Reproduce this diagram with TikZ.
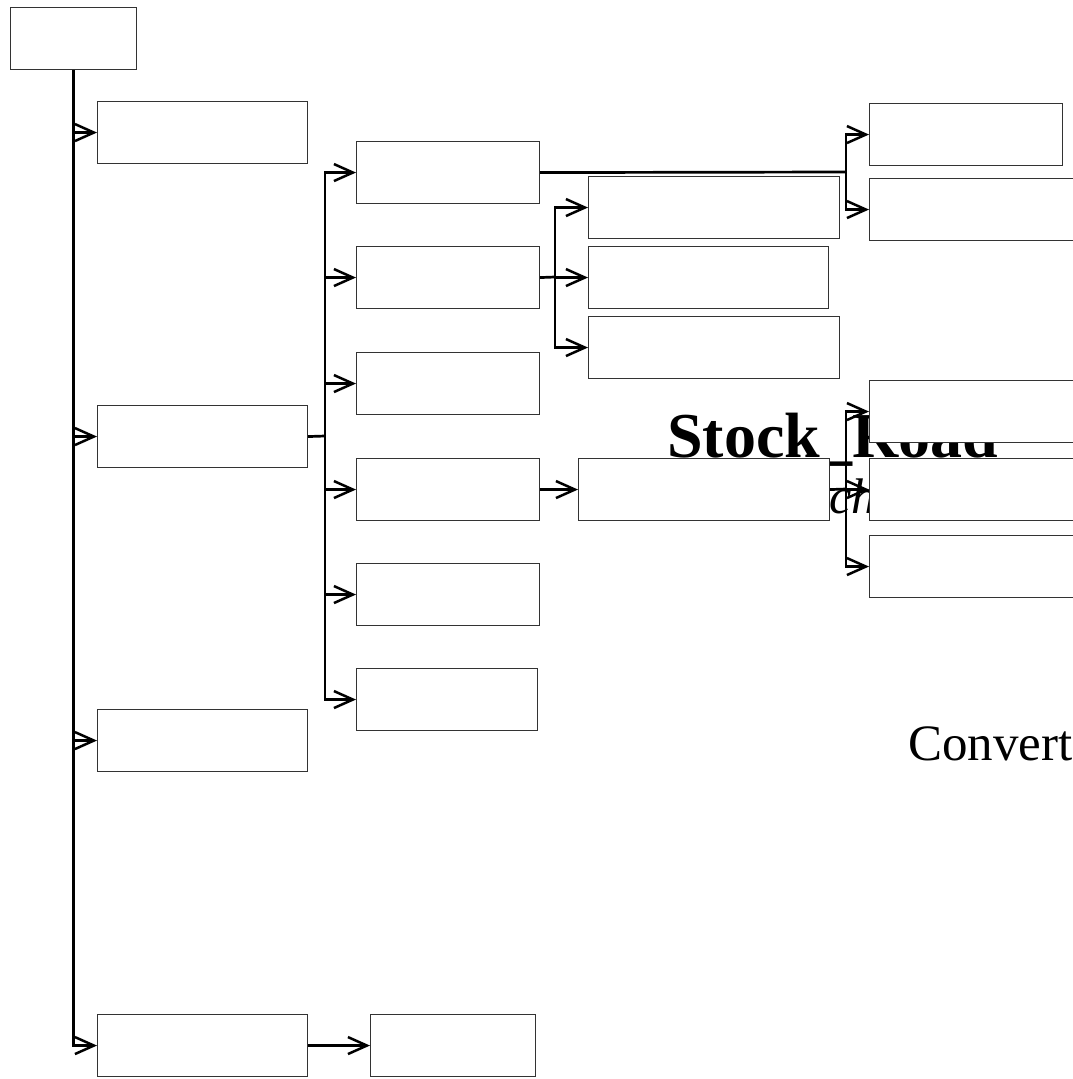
\documentclass[tikz,border=0pt]{standalone}
\usepackage{fontspec}
\setmainfont{Liberation Serif}
\usetikzlibrary{arrows.meta}
\tikzset{
  x=1pt, y=-1pt,
  box/.style={draw=black!80, line width=1.1pt, fill=white, rectangle, inner sep=0pt, anchor=north west, minimum height=62pt},
  conn/.style={draw=black, line width=2.7pt},
  arr/.style={conn, -{Straight Barb[length=19pt,width=17pt,line width=2.5pt]}},
  lbl/.style={inner sep=0pt, font=\fontsize{51}{60}\selectfont}
}
\begin{document}
\begin{tikzpicture}
\useasboundingbox (0,0) rectangle (1073,1079);
% texts behind the boxes
\node[lbl, anchor=base west, font=\bfseries\fontsize{64}{72}\selectfont] (title) at (667,457) {Stock\_Road};
\node[lbl, anchor=base east, font=\itshape\fontsize{50}{60}\selectfont] (sub) at (877,513) {Attach};
\node[lbl, anchor=base west] (conv) at (908,760) {Convert};
% boxes
\node[box, minimum width=126pt] (root) at (10,7) {};
\node[box, minimum width=210pt] (A1) at (97,101) {};
\node[box, minimum width=210pt] (A2) at (97,405) {};
\node[box, minimum width=210pt] (A3) at (97,709) {};
\node[box, minimum width=210pt] (A4) at (97,1014) {};
\node[box, minimum width=183pt] (B1) at (356,141) {};
\node[box, minimum width=183pt] (B2) at (356,246) {};
\node[box, minimum width=183pt] (B3) at (356,352) {};
\node[box, minimum width=183pt] (B4) at (356,458) {};
\node[box, minimum width=183pt] (B5) at (356,563) {};
\node[box, minimum width=181pt] (B6) at (356,668) {};
\node[box, minimum width=193pt] (C1) at (869,103) {};
\node[box, minimum width=250pt] (C2) at (869,178) {};
\node[box, minimum width=251pt] (D1) at (588,176) {};
\node[box, minimum width=240pt] (D2) at (588,246) {};
\node[box, minimum width=251pt] (D3) at (588,316) {};
\node[box, minimum width=251pt] (E) at (578,458) {};
\node[box, minimum width=250pt] (F1) at (869,380) {};
\node[box, minimum width=250pt] (F2) at (869,458) {};
\node[box, minimum width=250pt] (F3) at (869,535) {};
\node[box, minimum width=165pt] (G) at (370,1014) {};
% junctions
\coordinate (jA) at (325,436);
\coordinate (jB1) at (846,172);
\coordinate (jB2) at (555,277);
\coordinate (jE) at (846,489);
% trunk
\draw[arr] (root.south) |- (A1.west);
\draw[arr] (root.south) |- (A2.west);
\draw[arr] (root.south) |- (A3.west);
\draw[arr] (root.south) |- (A4.west);
% A2 children
\draw[conn] (A2.east) -- (jA);
\foreach \n in {B1,B2,B3,B4,B5,B6} \draw[arr] (jA) |- (\n.west);
% B1 children
\draw[conn] (B1.east) -- (jB1);
\draw[arr] (jB1) |- (C1.west);
\draw[arr] (jB1) |- (C2.west);
% B2 children
\draw[conn] (B2.east) -- (jB2);
\draw[arr] (jB2) |- (D1.west);
\draw[arr] (jB2) |- (D2.west);
\draw[arr] (jB2) |- (D3.west);
% B4 child
\draw[arr] (B4.east) -- (E.west);
% E children
\draw[conn] (E.east) -- (jE);
\draw[arr] (jE) |- (F1.west);
\draw[arr] (jE) |- (F2.west);
\draw[arr] (jE) |- (F3.west);
% A4 child
\draw[arr] (A4.east) -- (G.west);
\end{tikzpicture}
\end{document}
